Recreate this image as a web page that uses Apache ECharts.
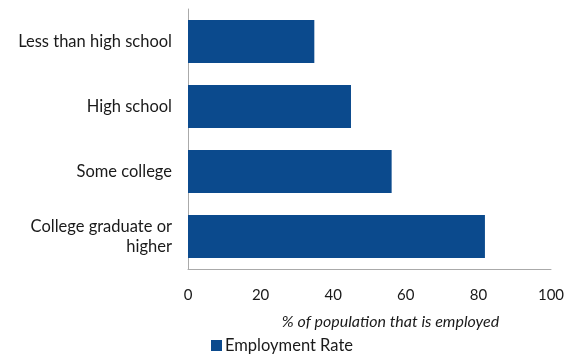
<!DOCTYPE html>
<html><head><meta charset="utf-8">
<script src="https://cdn.jsdelivr.net/npm/echarts@6/dist/echarts.min.js"></script>
<style>html,body{margin:0;padding:0;background:#fff}#c{width:576px;height:356px}</style>
</head><body><div id="c"></div>
<script>
const categories = ["Less than high school", "High school", "Some college", "College graduate or\nhigher"];
const employmentRate = [34.8, 44.9, 56.1, 81.8];
const xTicks = [0, 20, 40, 60, 80, 100];
const seriesName = "Employment Rate";
const axisTitle = "% of population that is employed";

const chart = echarts.init(document.getElementById('c'));
const font = 'Lato, "Open Sans", sans-serif';
chart.setOption({
  animation: false,
  textStyle: { fontFamily: font },
  grid: { left: 188, right: 25, top: 9, bottom: 87, containLabel: false },
  legend: {
    data: [seriesName], left: 211, top: 337, padding: 0, itemWidth: 11, itemHeight: 11, itemGap: 4,
    icon: 'rect',
    textStyle: { fontFamily: font, fontSize: 16.5, color: '#1a1a1a', padding: [0,0,0,-2] }
  },
  xAxis: {
    type: 'value', min: xTicks[0], max: xTicks[xTicks.length-1], interval: 20,
    axisLine: { show: true, lineStyle: { color: '#aaa' } },
    axisTick: { show: false }, splitLine: { show: false },
    axisLabel: { fontSize: 15, color: '#1a1a1a', margin: 19, fontFamily: font },
    name: axisTitle, nameLocation: 'middle', nameGap: 45,
    nameTextStyle: { fontStyle: 'italic', fontSize: 16, color: '#1a1a1a', fontFamily: font, padding: [0,0,0,42] }
  },
  yAxis: {
    type: 'category', data: categories, inverse: true,
    axisLine: { show: true, lineStyle: { color: '#aaa' } },
    axisTick: { show: false },
    axisLabel: { fontSize: 16.5, color: '#1a1a1a', margin: 16, lineHeight: 20, fontFamily: font }
  },
  series: [{
    name: seriesName, type: 'bar', data: employmentRate, barCategoryGap: '34%',
    itemStyle: { color: '#0b4a8d' }
  }]
});
</script></body></html>
